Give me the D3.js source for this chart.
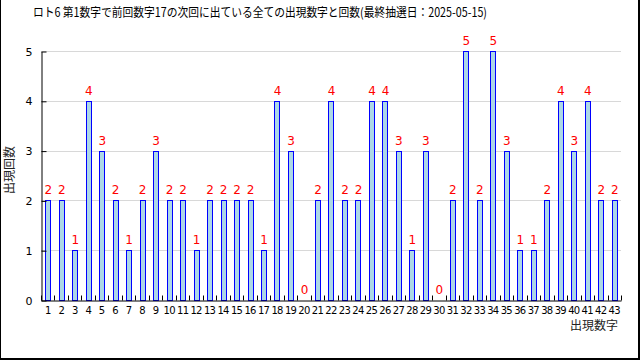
<!DOCTYPE html>
<html><head><meta charset="utf-8">
<script src="https://cdn.jsdelivr.net/npm/d3@7"></script>
<style>
html,body{margin:0;padding:0;background:#fff;}
svg{display:block;}
text{font-family:"Noto Sans CJK JP","DejaVu Sans",sans-serif;}
</style></head>
<body>
<svg id="chart" width="640" height="360"></svg>
<script>
const title = "ロト6 第1数字で前回数字17の次回に出ている全ての出現数字と回数(最終抽選日：2025-05-15)";
const categories = d3.range(1, 44).map(String);
const counts = [2,2,1,4,3,2,1,2,3,2,2,1,2,2,2,2,1,4,3,0,2,4,2,2,4,4,3,1,3,0,2,5,2,5,3,1,1,2,4,3,4,2,2];
const yTicks = [0,1,2,3,4,5];
const xTitle = "出現数字";
const yTitle = "出現回数";

const svg = d3.select("#chart");
const mLeft = 41, mRight = 621, mTop = 51, mBottom = 300;

// frame
svg.append("line").attr("x1",0.5).attr("x2",0.5).attr("y1",0).attr("y2",360).attr("stroke","#000");
svg.append("line").attr("x1",639).attr("x2",639).attr("y1",0).attr("y2",360).attr("stroke","#000").attr("stroke-width",2);
svg.append("line").attr("x1",0).attr("x2",640).attr("y1",359).attr("y2",359).attr("stroke","#000").attr("stroke-width",2);

svg.append("text").attr("x",33).attr("y",17).attr("font-size",12.5)
  .attr("textLength",454).attr("lengthAdjust","spacingAndGlyphs").text(title);

const x = d3.scaleBand().domain(categories).range([mLeft, mRight]).paddingInner(0.62).paddingOuter(0.31);
const y = d3.scaleLinear().domain([0,5]).range([mBottom, mTop]);

// gridlines
svg.append("g").selectAll("line").data(yTicks.filter(d=>d>0)).join("line")
  .attr("x1",mLeft).attr("x2",mRight)
  .attr("y1",d=>Math.round(y(d))+0.5).attr("y2",d=>Math.round(y(d))+0.5)
  .attr("stroke","#d8d8d8");

// bars
svg.append("g").selectAll("rect").data(counts).join("rect")
  .attr("x",(d,i)=>Math.round(x(categories[i]))+0.5)
  .attr("y",d=>Math.round(y(d))+0.5)
  .attr("width",Math.round(x.bandwidth()))
  .attr("height",d=>Math.round(y(0))-Math.round(y(d)))
  .attr("fill","#add8e6").attr("stroke","#0000ff").attr("stroke-width",1)
  .attr("display",d=>d>0?null:"none");

// value labels
svg.append("g").selectAll("text").data(counts).join("text")
  .attr("x",(d,i)=>x(categories[i])+x.bandwidth()/2+0.5)
  .attr("y",d=>y(d)-6)
  .attr("text-anchor","middle").attr("font-size",12).attr("fill","#ff0000")
  .style("font-family","'DejaVu Sans',sans-serif")
  .text(d=>d);

// y axis
const yAxis = d3.axisLeft(y).tickValues(yTicks).tickFormat(d3.format("d")).tickSizeInner(-5).tickSizeOuter(0).tickPadding(9);
const gy = svg.append("g").attr("transform",`translate(${mLeft+0.5},0.5)`).call(yAxis);
gy.selectAll("text").attr("font-size",11).style("font-family","'DejaVu Sans',sans-serif");
gy.selectAll("line,path").attr("stroke","#000");

// x axis
const xAxis = d3.axisBottom(x).tickSizeInner(0).tickSizeOuter(0).tickPadding(6);
const gx = svg.append("g").attr("transform",`translate(0,${mBottom+0.5})`).call(xAxis);
gx.selectAll("text").attr("font-size",10).attr("letter-spacing",-0.7).style("font-family","'DejaVu Sans',sans-serif");
gx.select("path").attr("stroke","#000");
// boundary ticks (inward)
const bounds = d3.range(categories.length+1).map(i => mLeft + i*(mRight-mLeft)/categories.length);
gx.append("g").selectAll("line").data(bounds).join("line")
  .attr("x1",d=>Math.round(d)+0.5).attr("x2",d=>Math.round(d)+0.5)
  .attr("y1",0).attr("y2",-5).attr("stroke","#000");

// axis titles
svg.append("text").attr("x",618).attr("y",330).attr("text-anchor","end").attr("font-size",12).attr("fill","#222").text(xTitle);
svg.append("text").attr("transform","translate(14,170) rotate(-90)").attr("text-anchor","middle").attr("font-size",12).attr("fill","#222").text(yTitle);
</script>
</body></html>
